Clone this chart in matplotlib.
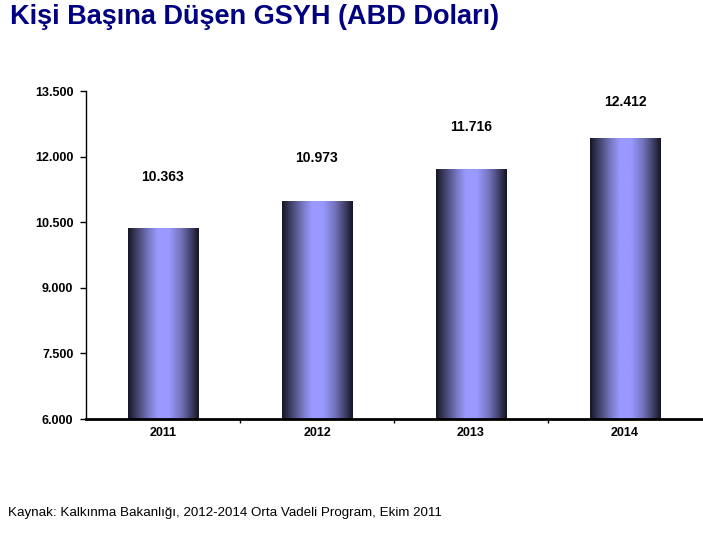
import matplotlib
matplotlib.use("Agg")
import matplotlib.pyplot as plt
import numpy as np
from matplotlib.colors import LinearSegmentedColormap

years = ["2011", "2012", "2013", "2014"]
values = [10363, 10973, 11716, 12412]
value_labels = ["10.363", "10.973", "11.716", "12.412"]
yticks = [6000, 7500, 9000, 10500, 12000, 13500]
ytick_labels = ["6.000", "7.500", "9.000", "10.500", "12.000", "13.500"]

# vertical offsets (points) of the value labels above the bar tops
label_offsets = [37, 31, 30, 26]

plt.rcParams['font.family'] = ['Liberation Sans', 'DejaVu Sans']

fig = plt.figure(figsize=(7.03, 5.38), dpi=100)
ax = fig.add_axes([86/703, 1-419/538, 616/703, 328/538])

cmap = LinearSegmentedColormap.from_list("bar", [
    (0.0, "#161626"), (0.12, "#3f3f66"), (0.3, "#7a7ac8"), (0.42, "#9999ff"),
    (0.58, "#9999ff"), (0.75, "#7373bb"), (0.9, "#3c3c62"), (1.0, "#141422")])
grad = np.linspace(0, 1, 256).reshape(1, -1)

ymin, ymax = 6000, 13500
width = 0.46
x = np.arange(len(years))
for xi, v, lab, off in zip(x, values, value_labels, label_offsets):
    ax.imshow(grad, cmap=cmap, aspect='auto', extent=(xi - width/2, xi + width/2, ymin, v),
              zorder=2, interpolation='bilinear')
    ax.annotate(lab, (xi, v), xytext=(0, off), textcoords='offset points',
                ha='center', va='center', fontsize=10, fontweight='bold')

ax.set_xlim(-0.5, len(years) - 0.5)
ax.set_ylim(ymin, ymax)
ax.set_yticks(yticks)
ax.set_yticklabels(ytick_labels, fontsize=9, fontweight='bold')
ax.set_xticks(x)
ax.set_xticklabels(years, fontsize=9, fontweight='bold')
ax.set_xticks(np.arange(0.5, len(years) - 0.5, 1), minor=True)
ax.tick_params(axis='x', which='major', length=0, pad=6)
ax.tick_params(axis='x', which='minor', length=3, width=1, direction='out')
ax.tick_params(axis='y', which='major', length=4, width=1, direction='out', pad=5)

for s in ['top', 'right']:
    ax.spines[s].set_visible(False)
ax.spines['left'].set_linewidth(1.0)
ax.spines['bottom'].set_linewidth(2.0)

fig.text(10/703, 1-17/538, "Kişi Başına Düşen GSYH (ABD Doları)", fontsize=19.5,
         fontweight='bold', color='#000080', ha='left', va='center')
fig.text(8/703, 1-513/538, "Kaynak: Kalkınma Bakanlığı, 2012-2014 Orta Vadeli Program, Ekim 2011",
         fontsize=9.6, ha='left', va='center', color='black')

fig.savefig("out.png", dpi=100)
